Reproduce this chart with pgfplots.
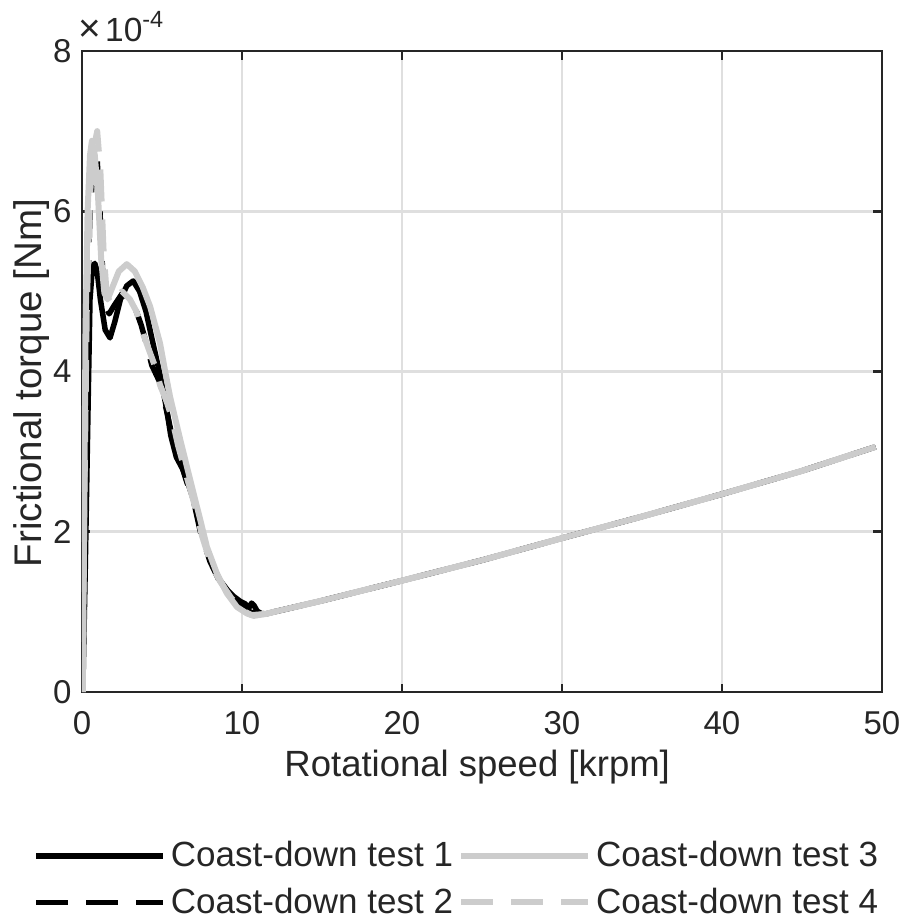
\documentclass[border=0pt]{standalone}
\usepackage{pgfplots}
\pgfplotsset{compat=1.18}
\usepackage{fontspec}
\setmainfont{Liberation Sans}
\definecolor{axgray}{rgb}{0.15,0.15,0.15}
\definecolor{gridgray}{RGB}{223,223,223}
\definecolor{lgray}{RGB}{204,204,204}
\begin{document}
\begin{tikzpicture}
\path[use as bounding box] (-32.8pt,-91.2pt) rectangle (330.8pt,276.8pt);
\begin{axis}[
  scale only axis, width=320pt, height=256.4pt,
  at={(0pt,0pt)}, anchor=south west,
  xmin=0, xmax=50, ymin=0, ymax=8e-4,
  xtick={0,10,20,30,40,50},
  ytick={0,2e-4,4e-4,6e-4,8e-4},
  scaled y ticks=base 10:4,
  ytick scale label code/.code={\fontsize{13.4}{15}\selectfont{\fontsize{15.5}{15}\selectfont ×}\kern0.12em 10\textsuperscript{#1}},
  every y tick scale label/.style={at={(rel axis cs:0,1)}, anchor=base west, inner sep=0pt, xshift=2.4pt, yshift=4pt, text=axgray},
  /pgf/number format/assume math mode=true,
  tick label style={font=\fontsize{13.2}{15}\selectfont, text=axgray},
  xticklabel style={inner sep=0pt, anchor=north, yshift=-7.6pt},
  yticklabel style={inner sep=0pt, anchor=east, xshift=-4pt},
  tick align=inside,
  major tick length=3.4pt,
  every tick/.style={axgray, line width=1.1pt},
  axis line style={axgray, line width=1.1pt},
  grid=major,
  major grid style={gridgray, line width=1.1pt},
  xlabel={Rotational speed [krpm]},
  ylabel={Frictional torque [Nm]},
  xlabel style={font=\fontsize{14.6}{17}\selectfont, text=axgray, at={(rel axis cs:0.494,0)}, anchor=center, yshift=-30.2pt},
  ylabel style={font=\fontsize{15.4}{18}\selectfont, text=axgray, at={(rel axis cs:0,0.482)}, anchor=center, yshift=20pt},
  legend columns=2,
  transpose legend,
  legend cell align=left,
  legend image code/.code={\draw[#1] (0pt,0pt) -- (50.8pt,0pt);},
  legend style={at={(rel axis cs:-0.0613,-0.2248)}, anchor=north west, draw=none, fill=none, inner sep=0pt,
    font=\fontsize{14}{16}\selectfont, text=axgray, row sep=2.8pt,
    /tikz/every even column/.append style={column sep=0pt}},
  every axis plot/.append style={line join=round},
]
\addplot[black, line width=2.2pt] coordinates {
(0.05,0) (0.2,1.5e-4) (0.4,3.8e-4) (0.5,4.9e-4) (0.65,5.3e-4) (0.8,5.35e-4) (0.95,5.25e-4)
(1.15,4.9e-4) (1.45,4.52e-4) (1.75,4.42e-4) (2.05,4.62e-4) (2.4,4.9e-4) (2.8,5.07e-4)
(3.2,5.13e-4) (3.6,5.0e-4) (4.0,4.75e-4) (4.36,4.42e-4) (4.9,3.94e-4) (5.3,3.52e-4)
(5.55,3.2e-4) (5.9,2.93e-4) (6.3,2.78e-4) (6.6,2.62e-4) (6.97,2.40e-4) (7.4,2.06e-4)
(8.0,1.65e-4) (8.6,1.40e-4) (9.1,1.27e-4) (9.5,1.19e-4) (9.9,1.13e-4) (10.2,1.10e-4)
(10.4,1.04e-4) (10.6,1.11e-4) (10.75,1.08e-4) (10.95,1.01e-4) (11.2,0.98e-4)
(11.5,0.975e-4) (12,1.00e-4) (15,1.14e-4) (20,1.39e-4) (25,1.645e-4) (30,1.92e-4)
(35,2.19e-4) (40,2.47e-4) (45,2.76e-4) (49.6,3.06e-4)
};
\addlegendentry{Coast-down test 1}
\addplot[black, line width=2.2pt, dash pattern=on 12.8pt off 7.2pt] coordinates {
(0.05,0) (0.15,2.2e-4) (0.3,4.6e-4) (0.5,6.0e-4) (0.7,6.5e-4) (0.92,6.74e-4) (1.1,6.1e-4)
(1.3,5.2e-4) (1.5,4.8e-4) (1.7,4.72e-4) (2.0,4.82e-4) (2.5,4.97e-4) (3.0,4.9e-4)
(3.4,4.75e-4) (3.7,4.58e-4) (3.94,4.41e-4) (4.36,4.08e-4) (4.9,3.85e-4) (5.3,3.5e-4)
(5.6,3.22e-4) (6.0,2.98e-4) (6.5,2.65e-4) (7.0,2.36e-4) (7.4,2.0e-4) (8.0,1.63e-4)
(8.6,1.38e-4) (9.3,1.2e-4) (10.0,1.08e-4) (10.5,1.0e-4) (11.0,0.97e-4)
(11.5,0.975e-4) (12,1.00e-4) (15,1.14e-4) (20,1.39e-4) (25,1.645e-4) (30,1.92e-4)
(35,2.19e-4) (40,2.47e-4) (45,2.76e-4) (49.6,3.06e-4)
};
\addlegendentry{Coast-down test 2}
\addplot[lgray, line width=2.4pt] coordinates {
(0.05,0) (0.15,2.5e-4) (0.22,4.5e-4) (0.35,6.0e-4) (0.5,6.7e-4) (0.62,6.88e-4) (0.8,6.7e-4)
(1.0,6.2e-4) (1.2,5.4e-4) (1.4,4.98e-4) (1.6,4.9e-4) (1.9,5.05e-4) (2.3,5.25e-4)
(2.8,5.34e-4) (3.3,5.25e-4) (3.8,5.05e-4) (4.26,4.81e-4) (4.88,4.35e-4) (5.2,4.0e-4)
(5.51,3.68e-4) (6.14,3.15e-4) (6.76,2.65e-4) (7.39,2.15e-4) (7.81,1.81e-4) (8.43,1.48e-4)
(9.06,1.23e-4) (9.69,1.06e-4) (10.31,0.98e-4) (10.73,0.95e-4)
(11.5,0.975e-4) (12,1.00e-4) (15,1.14e-4) (20,1.39e-4) (25,1.645e-4) (30,1.92e-4)
(35,2.19e-4) (40,2.47e-4) (45,2.76e-4) (49.6,3.06e-4)
};
\addlegendentry{Coast-down test 3}
\addplot[lgray, line width=2.4pt, dash pattern=on 12.8pt off 7.2pt] coordinates {
(0.05,0) (0.15,2.4e-4) (0.3,4.8e-4) (0.5,6.2e-4) (0.7,6.75e-4) (0.95,7.0e-4) (1.15,6.5e-4)
(1.35,5.5e-4) (1.55,4.95e-4) (1.8,4.85e-4) (2.1,4.92e-4) (2.5,5.0e-4) (3.0,4.9e-4)
(3.4,4.75e-4) (3.84,4.46e-4) (4.57,4.06e-4) (4.88,3.83e-4) (5.3,3.62e-4) (5.62,3.42e-4)
(6.0,3.08e-4) (6.5,2.72e-4) (7.18,2.23e-4) (7.5,1.95e-4) (8.0,1.63e-4) (8.6,1.39e-4)
(9.3,1.18e-4) (10.0,1.02e-4) (10.6,0.96e-4)
(11.5,0.975e-4) (12,1.00e-4) (15,1.14e-4) (20,1.39e-4) (25,1.645e-4) (30,1.92e-4)
(35,2.19e-4) (40,2.47e-4) (45,2.76e-4) (49.6,3.06e-4)
};
\addlegendentry{Coast-down test 4}
\end{axis}
\end{tikzpicture}
\end{document}
